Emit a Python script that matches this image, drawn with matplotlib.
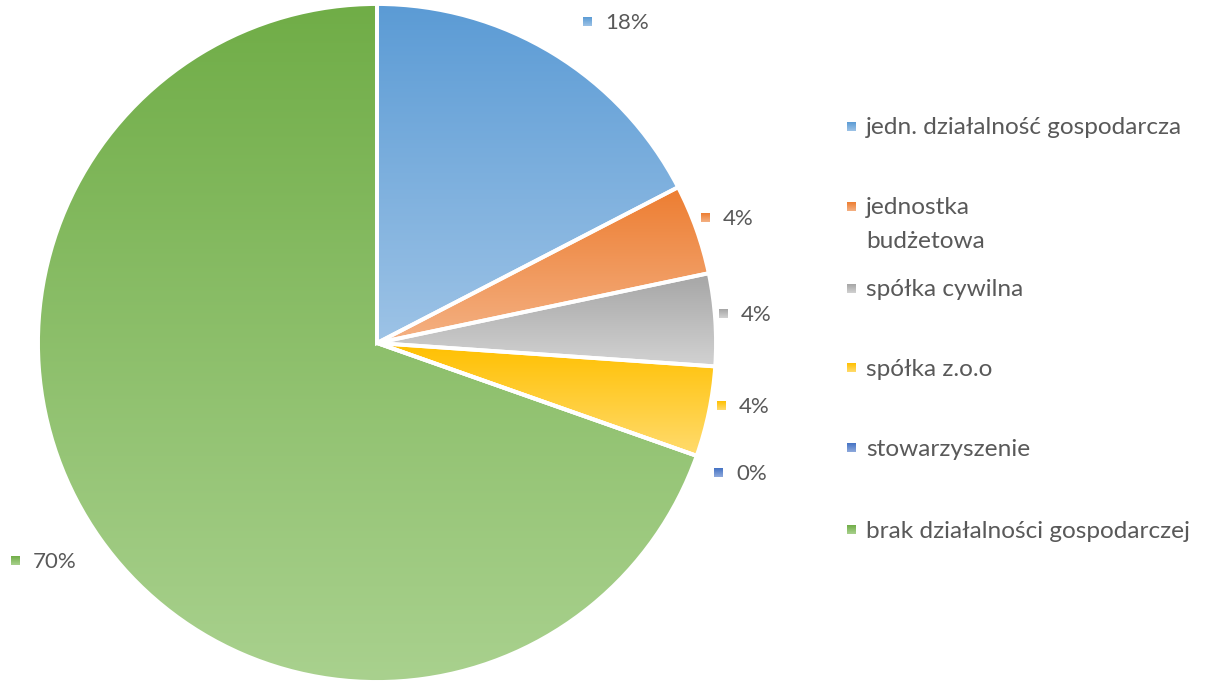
import numpy as np
import matplotlib.pyplot as plt
from matplotlib.colors import to_rgb

# data
categories = ['jedn. działalność gospodarcza', 'jednostka\nbudżetowa', 'spółka cywilna',
              'spółka z.o.o', 'stowarzyszenie', 'brak działalności gospodarczej']
shares = [17.4, 4.3, 4.4, 4.3, 0.0, 69.6]
pct_labels = ['18%', '4%', '4%', '4%', '0%', '70%']

# gradient colors (top -> bottom of each slice)
top_colors = ['#5B9BD5', '#ED7D31', '#A5A5A5', '#FFC000', '#4472C4', '#70AD47']
bottom_colors = ['#9DC3E6', '#F4B183', '#D2D2D2', '#FFDB6E', '#8FAADC', '#A9D18E']

# layout in pixel coordinates
center = (377, 343)
radius = 339
label_pos = [(587, 22), (705, 218), (723, 314), (721, 406), (718, 473), (15, 561)]
legend_rows = [127, 207, 289, 368, 448, 530]
legend_x = 851
text_color = '#595959'

plt.rcParams['font.family'] = ['Lato', 'DejaVu Sans']

fig = plt.figure(figsize=(12.06, 6.81), dpi=100)
ax = fig.add_axes([0, 0, 1, 1])


def gradient(c_top, c_bot, n=256):
    t = np.linspace(0, 1, n)[:, None]
    a = np.array(to_rgb(c_top))
    b = np.array(to_rgb(c_bot))
    return (a * (1 - t) + b * t)[:, None, :]


def grad_square(x, y, i, s=9):
    ax.imshow(gradient(top_colors[i], bottom_colors[i]), extent=[x - s / 2, x + s / 2, y + s / 2, y - s / 2],
              origin='upper', interpolation='bilinear', zorder=4)


# y axis is flipped (pixel coords), so visual clockwise = data counterclockwise
wedges, _ = ax.pie(shares, center=center, radius=radius, startangle=-90, counterclock=True,
                   frame=True, wedgeprops=dict(facecolor='none', edgecolor='white', linewidth=2.8))
for i, w in enumerate(wedges):
    w.set_zorder(3)
    if shares[i] == 0:
        continue
    bb = w.get_path().get_extents()
    im = ax.imshow(gradient(top_colors[i], bottom_colors[i]),
                   extent=[bb.x0, bb.x1, bb.y1, bb.y0], origin='upper',
                   interpolation='bilinear', zorder=2)
    im.set_clip_path(w)

# data labels
for i, (x, y) in enumerate(label_pos):
    grad_square(x, y, i)
    ax.text(x + 18, y + 1, pct_labels[i], fontsize=16, color=text_color, va='center', ha='left')

# legend
for i, y in enumerate(legend_rows):
    grad_square(legend_x, y, i)
    for j, line in enumerate(categories[i].split('\n')):
        ax.text(legend_x + 15, y + 1 + j * 33, line, fontsize=17.6, color=text_color,
                va='center', ha='left')

ax.set_xlim(0, 1206)
ax.set_ylim(681, 0)
ax.set_aspect('equal')
ax.axis('off')

fig.savefig('out.png', dpi=100)
